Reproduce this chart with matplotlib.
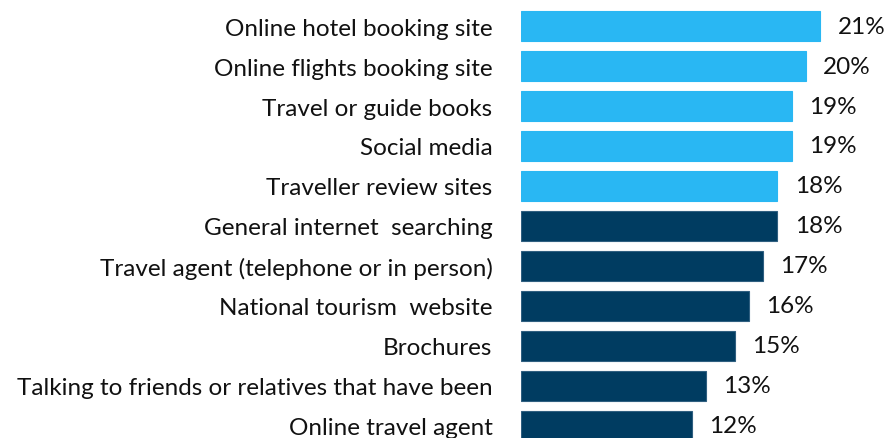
import matplotlib
matplotlib.use("Agg")
import matplotlib.pyplot as plt

# Data (top to bottom)
sources = [
    "Online hotel booking site",
    "Online flights booking site",
    "Travel or guide books",
    "Social media",
    "Traveller review sites",
    "General internet  searching",
    "Travel agent (telephone or in person)",
    "National tourism  website",
    "Brochures",
    "Talking to friends or relatives that have been",
    "Online travel agent",
]
shares = [21, 20, 19, 19, 18, 18, 17, 16, 15, 13, 12]
highlight = [True, True, True, True, True, False, False, False, False, False, False]

LIGHT = "#29B7F3"
DARK = "#003C61"

plt.rcParams['font.family'] = ['Lato', 'DejaVu Sans']

fig = plt.figure(figsize=(8.84, 4.39), dpi=100)
ax = fig.add_axes([521 / 884, 0, 356 / 884, 1])

ypos = list(range(len(sources)))
colors = [LIGHT if h else DARK for h in highlight]
edges = [LIGHT if h else "#2F5F80" for h in highlight]
bars = ax.barh(ypos, shares, height=0.75, color=colors, edgecolor=edges, linewidth=0.8)

for b, v in zip(bars, shares):
    ax.annotate(f"{v}%", (b.get_width(), b.get_y() + b.get_height() / 2),
                xytext=(12.5, 0), textcoords="offset points",
                va="center", ha="left", fontsize=17.5, color="#111111")

ax.set_xlim(0, 25)
ax.set_ylim(10.3, -0.675)
ax.set_yticks(ypos)
ax.set_yticklabels(sources, fontsize=17.5, color="#111111")
ax.tick_params(axis="y", length=0, pad=20.5)
ax.set_xticks([])
for s in ax.spines.values():
    s.set_visible(False)

fig.savefig("out.png", dpi=100)
